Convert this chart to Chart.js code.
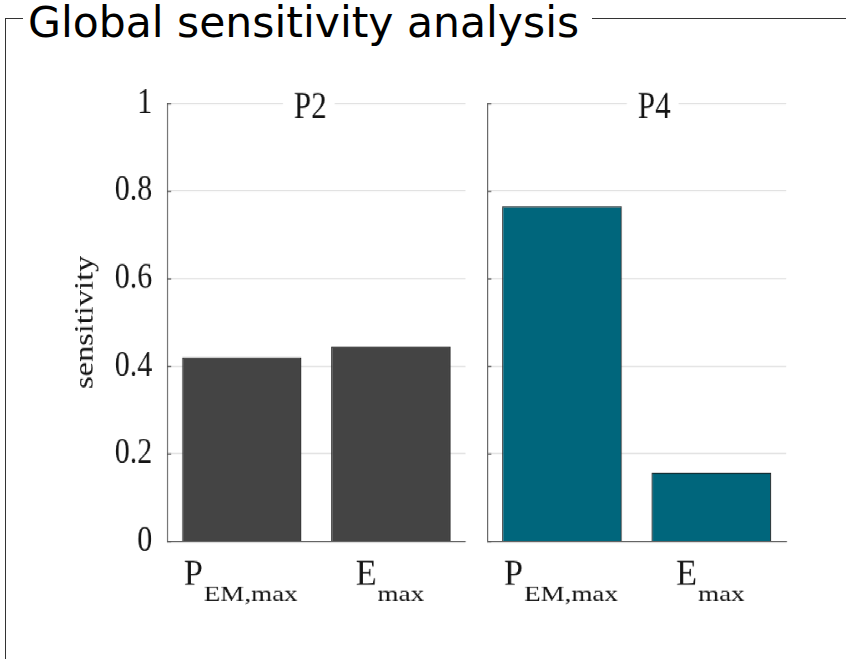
<!DOCTYPE html>
<html>
<head>
<meta charset="utf-8">
<script src="https://cdn.jsdelivr.net/npm/chart.js@4.4.1/dist/chart.umd.min.js"></script>
<style>
  html, body { margin: 0; padding: 0; background: #fff; overflow: hidden; width: 846px; height: 659px; }
  #frame { position: absolute; left: 5px; top: 18px; width: 900px; height: 700px;
           border-left: 1px solid #333; border-top: 1px solid #333; }
  #caption { position: absolute; left: 23px; top: 2px; padding: 0 13px 0 5px; background: #fff;
             font: 42.5px/42px "DejaVu Sans"; color: #000; white-space: nowrap; }
  /* the figure is drawn at 1/1.2 height and stretched vertically */
  #stage { position: absolute; left: 0; top: 0; width: 846px; height: 549.1667px;
           transform: scaleY(1.2); transform-origin: 0 0; }
  .panel { position: absolute; top: 0; height: 100%; }
</style>
</head>
<body>
<div id="frame"></div>
<div id="caption">Global sensitivity analysis</div>
<div id="stage">
  <div class="panel" style="left:0;width:478px"><canvas id="c0"></canvas></div>
  <div class="panel" style="left:478px;width:368px"><canvas id="c1"></canvas></div>
</div>
<script>
// ---- data ----
const panelNames = ['P2', 'P4'];
const catMain = ['P', 'E'];            // parameter symbol
const catSub = ['EM,max', 'max'];      // its subscript
const sensP2 = [0.42, 0.445];
const sensP4 = [0.765, 0.157];
const yTickLabels = ['0', '0.2', '0.4', '0.6', '0.8', '1'];

const SERIF = '"Liberation Serif", "Times New Roman", serif';
const TEXT = '#141414';

// heading, inward tick marks and subscripted category labels
const panelDecor = {
  id: 'panelDecor',
  afterDraw(chart, args, opts) {
    const { ctx, chartArea: a, scales: { x, y } } = chart;
    ctx.save();

    ctx.strokeStyle = '#555';
    ctx.lineWidth = 1;
    y.ticks.forEach(t => {
      const py = Math.round(y.getPixelForValue(t.value)) + 0.5;
      ctx.beginPath();
      ctx.moveTo(a.left, py);
      ctx.lineTo(a.left + 4, py);
      ctx.stroke();
    });

    ctx.font = '31px ' + SERIF;
    ctx.textAlign = 'left';
    ctx.textBaseline = 'alphabetic';
    const cx = (a.left + a.right) / 2 + opts.shift;
    const w = ctx.measureText(opts.title).width;
    ctx.fillStyle = '#fff';
    ctx.fillRect(cx - w / 2 - 11, a.top - 3, w + 19, 6);
    ctx.fillStyle = TEXT;
    ctx.fillText(opts.title, cx - w / 2, a.top + 12.5);

    x.ticks.forEach((t, i) => {
      const px = x.getPixelForValue(i);
      ctx.font = '34px ' + SERIF;
      const wm = ctx.measureText(catMain[i]).width;
      ctx.font = '27px ' + SERIF;
      const ws = ctx.measureText(catSub[i]).width;
      const x0 = px - (wm + 1 + ws) / 2 - 1;

      ctx.save();
      ctx.translate(x0, a.bottom + 36.1);
      ctx.scale(1, 0.863);
      ctx.font = '34px ' + SERIF;
      ctx.fillText(catMain[i], 0, 0);
      ctx.restore();

      ctx.save();
      ctx.translate(x0 + wm + 1, a.bottom + 49.2);
      ctx.scale(1, 0.652);
      ctx.font = '27px ' + SERIF;
      ctx.fillText(catSub[i], 0, 0);
      ctx.restore();
    });
    ctx.restore();
  }
};

function makeChart(id, values, color, first, title, shift, padRight, yWidth) {
  return new Chart(document.getElementById(id), {
    type: 'bar',
    data: {
      labels: catMain.map((m, i) => m + '_' + catSub[i]),
      datasets: [{
        data: values,
        backgroundColor: color,
        borderColor: '#1a1a1a',
        borderWidth: 1,
        barPercentage: 0.8,
        categoryPercentage: 1.0
      }]
    },
    options: {
      responsive: true,
      maintainAspectRatio: false,
      devicePixelRatio: 1.2,
      animation: false,
      events: [],
      layout: { padding: { top: 86.1, bottom: 97.8, left: 0, right: padRight } },
      plugins: {
        legend: { display: false },
        tooltip: { enabled: false },
        panelDecor: { title: title, shift: shift }
      },
      scales: {
        x: {
          grid: { display: false, drawTicks: false },
          border: { display: true, color: '#555', width: 1 },
          ticks: { display: false },
          afterFit: s => { s.height = 0; }
        },
        y: {
          min: 0, max: 1,
          ticks: {
            display: first,
            stepSize: 0.2,
            padding: 15,
            color: TEXT,
            font: { family: SERIF, size: 30 },
            callback: (v, i) => yTickLabels[i]
          },
          grid: { color: '#e2e2e2', lineWidth: 1, drawTicks: false },
          border: { display: true, color: '#555', width: 1 },
          title: {
            display: first,
            text: 'sensitivity',
            color: TEXT,
            font: { family: SERIF, size: 27 },
            padding: { top: 69, bottom: 0 }
          },
          afterFit: s => { s.width = yWidth; }
        }
      }
    },
    plugins: [panelDecor]
  });
}

makeChart('c0', sensP2, '#444444', true, panelNames[0], -6, 13, 167);
makeChart('c1', sensP4, '#00667c', false, panelNames[1], 17.5, 60.3, 9.3);
</script>
</body>
</html>
